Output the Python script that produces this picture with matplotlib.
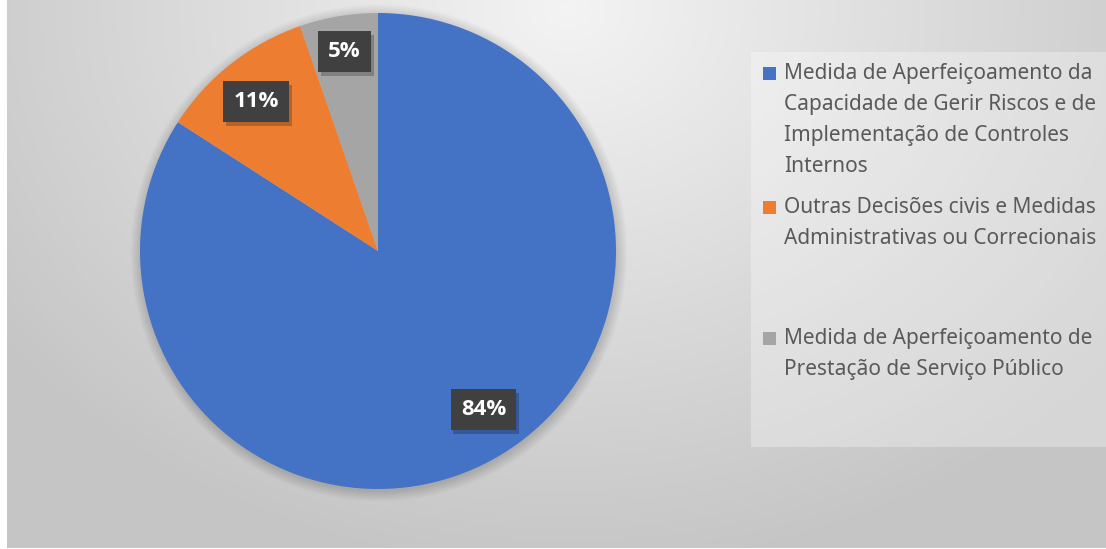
import numpy as np
import matplotlib.pyplot as plt
import matplotlib.patheffects as pe
from matplotlib.patches import Rectangle, Circle

# =============================================================================
# Data
# =============================================================================
categorias = ['Medida de Aperfeiçoamento da\nCapacidade de Gerir Riscos e de\nImplementação de Controles\nInternos',
              'Outras Decisões civis e Medidas\nAdministrativas ou Correcionais',
              'Medida de Aperfeiçoamento de\nPrestação de Serviço Público']
valores = [84.1, 10.6, 5.3]
cores = ['#4472c4', '#ed7d31', '#a5a5a5']

W, H = 1106, 549
fig = plt.figure(figsize=(W / 100, H / 100), dpi=100)
fig.patch.set_facecolor('white')

# =============================================================================
# Background gradient (radial, light at top centre)
# =============================================================================
bg = fig.add_axes([7 / W, 1 / H, 1 - 7 / W, 1 - 1 / H])
yy, xx = np.mgrid[0:H, 0:W - 7]
d = np.sqrt(((xx - 560) / 700.0) ** 2 + ((yy - 10) / 560.0) ** 2)
d = np.clip(d, 0, 1)
grey = 0.955 - 0.18 * d
img = np.dstack([grey, grey, grey])
bg.imshow(img, aspect='auto', extent=[0, 1, 0, 1], origin='upper')
bg.axis('off')

# legend panel
bg.add_patch(Rectangle(((751 - 7) / (W - 7), 1 - 448 / H), (W - 751) / (W - 7), (448 - 52) / H,
                       transform=bg.transAxes, facecolor='white', alpha=0.3, edgecolor='none'))

# =============================================================================
# Pie
# =============================================================================
cx, cy, r = 378, 251, 238
ax = fig.add_axes([(cx - r) / W, (H - cy - r) / H, 2 * r / W, 2 * r / H])
ax.set_xlim(-1, 1)
ax.set_ylim(-1, 1)
ax.axis('off')

# soft shadow around pie
for k in range(12):
    ax.add_patch(Circle((0.004, -0.008), 1.0 + 0.004 * k, facecolor='black', alpha=0.012,
                        edgecolor='none', zorder=0, clip_on=False))

wedges, texts, autotexts = ax.pie(valores, colors=cores, startangle=90, counterclock=False,
                                  autopct='%1.0f%%', pctdistance=0.81, radius=1,
                                  wedgeprops=dict(linewidth=0, zorder=1),
                                  textprops=dict(color='white', fontsize=16, fontweight='bold',
                                                 family='Open Sans'))

# label placement (Excel "best fit" look): radial distance and angle shift
label_r = [0.80, 0.81, 0.85]
label_dang = [5.0, 1.0, 0.0]
for w, t, lr, da in zip(wedges, autotexts, label_r, label_dang):
    ang = np.deg2rad((w.theta1 + w.theta2) / 2 + da)
    t.set_position((lr * np.cos(ang), lr * np.sin(ang)))
    t.set_bbox(dict(boxstyle='square,pad=0.46', facecolor='#404040', edgecolor='none'))
    t.get_bbox_patch().set_path_effects([pe.withSimplePatchShadow(offset=(2, -3),
                                                                  shadow_rgbFace='black', alpha=0.22)])
ax.set_xlim(-1, 1)
ax.set_ylim(-1, 1)

# =============================================================================
# Legend (drawn by hand, Excel style)
# =============================================================================
y_first = [73, 207, 338]
for cat, cor, y0 in zip(categorias, cores, y_first):
    fig.patches.append(Rectangle((763 / W, 1 - (y0 + 6.5) / H), 13 / W, 13 / H,
                                 transform=fig.transFigure, facecolor=cor, edgecolor='none'))
    fig.text(784 / W, 1 - (y0 - 10) / H, cat, ha='left', va='top', fontsize=15,
             color='#595959', family='Noto Sans', linespacing=1.62)

fig.savefig('out.png', dpi=100)
